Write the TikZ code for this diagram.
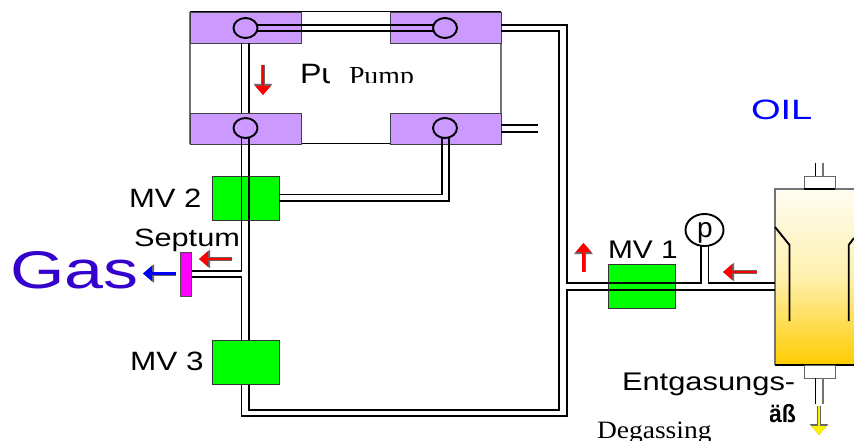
\documentclass[tikz,border=0pt]{standalone}
\usepackage{fontspec}
\setmainfont{Liberation Sans}
\newfontfamily\serifface{Liberation Serif}
\usetikzlibrary{arrows.meta,shapes.geometric}
\definecolor{pumpviolet}{HTML}{CC99FF}
\definecolor{valvegreen}{HTML}{00FF00}
\definecolor{gasblue}{HTML}{3300CC}
\definecolor{oilblue}{HTML}{0000FF}
\definecolor{septummag}{HTML}{FF00FF}
\definecolor{vesseltop}{HTML}{FFFDF2}
\definecolor{vesselmid}{HTML}{FFF0AE}
\definecolor{vesselbot}{HTML}{FFCC00}
\tikzset{
  pumpblock/.style={draw=black!75,line width=.9pt,fill=pumpviolet,minimum width=111pt,minimum height=31pt,inner sep=0pt,outer sep=0pt},
  port/.style={draw=black,line width=1.9pt,fill=pumpviolet,ellipse,minimum width=24pt,minimum height=20pt,inner sep=0pt,outer sep=0pt},
  valve/.style={draw=black!80,line width=.9pt,fill=valvegreen,minimum width=67pt,minimum height=44pt,inner sep=0pt,outer sep=0pt},
  pipe/.style={draw=black,line width=1.9pt,line join=miter},
  grayline/.style={draw=black!55,line width=1.2pt},
  lbl/.style={inner sep=0pt,outer sep=0pt,anchor=base west},
  capbox/.style={draw=black!60,line width=1pt,fill=white,minimum width=31pt,minimum height=13pt,inner sep=0pt},
}
\newcommand{\flowarrow}[3]{%
  \draw[line width=4pt,draw=black!60,-{Triangle[length=11pt,width=18pt]}] #2 -- #3;
  \draw[line width=2.6pt,draw=#1,-{Triangle[length=9pt,width=15pt]}] #2 -- #3;}
\begin{document}
\begin{tikzpicture}[x=1pt,y=-1pt]
\useasboundingbox (0,0) rectangle (854,441);
% pump body
\draw[grayline] (190,12) -- (190,144) (501,12) -- (501,144);
\draw[draw=black,line width=1pt] (190,12) -- (501,12) (190,144) -- (501,144);
\node[pumpblock] (tl) at (245.5,27.5) {};
\node[pumpblock] (tr) at (445.5,27.5) {};
\node[pumpblock] (bl) at (245.5,128.5) {};
\node[pumpblock] (br) at (445.5,128.5) {};
% valves behind the pipes
\node[valve] (mv2) at (245.5,198) {};
\node[valve] (mv1) at (641.5,286.5) {};
% vessel
\shade[top color=vesseltop,bottom color=vesselbot,middle color=vesselmid] (775,189) rectangle (854,365);
\draw[grayline] (854,189) -- (775,189) -- (775,365);
\draw[draw=black,line width=1.2pt] (775,365) -- (854,365);
\node[capbox] (capt) at (819.5,182.5) {};
\node[capbox] (capb) at (819.5,371.5) {};
\draw[draw=black,line width=1.4pt] (804,189) -- (835,189);
\draw[pipe,line width=1.3pt] (815.5,163) -- (815.5,176) (815.5,378) -- (815.5,404);
\draw[grayline] (823,163) -- (823,176) (823,378) -- (823,404);
\draw[pipe] (775,227) -- (789.5,245) -- (789.5,321);
\draw[pipe] (854,238) -- (848.7,245) -- (848.7,321);
% pipes
\draw[pipe] (257,25) -- (434,25);
\draw[pipe] (257,31) -- (434,31);
\draw[pipe] (241.5,43) -- (241.5,113);
\draw[pipe] (249,43) -- (249,113);
\draw[pipe] (501,25) -- (567,25) -- (567,283) -- (701,283) -- (701,245);
\draw[pipe] (501,31) -- (559,31) -- (559,410) -- (249,410) -- (249,138);
\draw[pipe] (775,290) -- (567,290) -- (567,416) -- (241.5,416) -- (241.5,277) -- (191,277);
\draw[pipe] (191,271) -- (241.5,271) -- (241.5,138);
\draw[pipe] (708.5,245) -- (708.5,283) -- (775,283);
\draw[pipe] (442,138) -- (442,194.5) -- (279,194.5);
\draw[pipe] (449,138) -- (449,201) -- (279,201);
\draw[pipe] (501,125) -- (538,125);
\draw[pipe] (501,132) -- (538,132);
% parts in front of the pipes
\node[valve] (mv3) at (245.5,362) {};
\node[port] (p1) at (245.5,28) {};
\node[port] (p2) at (445,28) {};
\node[port] (p3) at (245.5,128) {};
\node[port] (p4) at (445,128) {};
\node[draw=black,line width=1.9pt,fill=white,ellipse,minimum width=38pt,minimum height=32pt,inner sep=0pt] (gauge) at (704.5,230) {};
\node[draw=black!70,line width=1pt,fill=septummag,minimum width=11pt,minimum height=44pt,inner sep=0pt] (septum) at (185.5,274) {};
% flow arrows
\flowarrow{red}{(263,65)}{(263,95)}
\flowarrow{red}{(232,259)}{(199,259)}
\flowarrow{oilblue}{(176,273.5)}{(143,273.5)}
\flowarrow{red}{(583.5,272)}{(583.5,243)}
\flowarrow{red}{(757,272)}{(723,272)}
\flowarrow{yellow}{(819,406)}{(819,435)}
% labels
\begin{scope}
\clip (295,55) rectangle (329,84);
\node[lbl,font=\fontsize{28}{28}\selectfont,xscale=1.15] (pua) at (300,83.5) {Pu};
\end{scope}
\begin{scope}
\clip (345,55) rectangle (420,83);
\node[lbl,font=\serifface\fontsize{26}{26}\selectfont,xscale=1.07] (pumpb) at (349,85) {Pump};
\end{scope}
\node[lbl,font=\fontsize{28}{28}\selectfont,text=oilblue,xscale=1.36] (oil) at (751,120) {OIL};
\node[lbl,font=\fontsize{26.5}{26.5}\selectfont,xscale=1.17] (l2) at (129,207) {MV 2};
\node[lbl,font=\fontsize{26.5}{26.5}\selectfont,xscale=1.19] (l3) at (130,370) {MV 3};
\node[lbl,font=\fontsize{25.5}{25.5}\selectfont,xscale=1.17] (l1) at (608,258) {MV 1};
\node[lbl,font=\fontsize{25}{25}\selectfont,xscale=1.23] (sept) at (134,246) {Septum};
\node[lbl,font=\fontsize{53}{53}\selectfont,text=gasblue,xscale=1.32] (gas) at (10,288) {Gas};
\node[lbl,font=\fontsize{28}{28}\selectfont] (pl) at (697,237) {p};
\node[lbl,font=\fontsize{25.5}{25.5}\selectfont,xscale=1.21] (ent) at (622,390) {Entgasungs-};
\begin{scope}
\clip (770,403) rectangle (800,425);
\node[lbl,font=\bfseries\fontsize{25}{25}\selectfont,anchor=base east,xscale=.92] (gef) at (796,422) {äß};
\end{scope}
\node[lbl,font=\serifface\fontsize{25}{25}\selectfont,xscale=1.1] (deg) at (597,438) {Degassing};
\end{tikzpicture}
\end{document}
